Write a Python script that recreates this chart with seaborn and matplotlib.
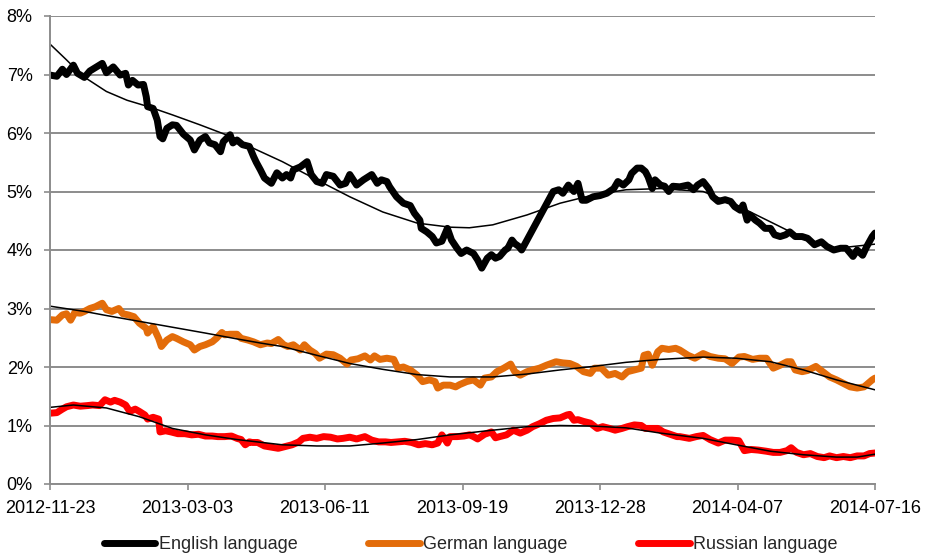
import pandas as pd
import seaborn as sns
import matplotlib.pyplot as plt
import matplotlib.dates as mdates
from matplotlib import font_manager

start = pd.Timestamp('2012-11-23')

# English language share (% of pages), days since 2012-11-23
en_day = [0, 5, 9, 12, 17, 20, 25, 29, 38, 41,
          46, 51, 55, 57, 60, 64, 68, 70, 71, 75,
          78, 80, 82, 85, 89, 92, 97, 102, 105, 109,
          113, 116, 120, 124, 126, 131, 133, 136, 140, 145,
          148, 150, 153, 156, 161, 165, 169, 172, 175, 177,
          182, 187, 190, 194, 198, 201, 206, 211, 215, 218,
          223, 228, 234, 238, 241, 245, 247, 252, 257, 262,
          265, 269, 270, 274, 278, 281, 285, 289, 292, 296,
          299, 303, 308, 311, 314, 318, 321, 324, 327, 331,
          333, 336, 338, 341, 343, 366, 370, 373, 377, 381,
          384, 387, 390, 395, 400, 405, 410, 413, 417, 421,
          423, 427, 430, 433, 435, 438, 440, 444, 447, 450,
          453, 458, 464, 468, 471, 475, 479, 482, 486, 491,
          495, 498, 502, 504, 507, 509, 513, 516, 520, 524,
          527, 531, 535, 538, 542, 547, 551, 556, 561, 565,
          570, 575, 579, 584, 587, 591, 594, 598, 600]
en_val = [6.99, 6.97, 7.09, 7.00, 7.16, 7.02, 6.95, 7.06, 7.19, 7.03,
          7.13, 6.99, 7.02, 6.82, 6.90, 6.82, 6.83, 6.62, 6.45, 6.42,
          6.22, 5.94, 5.90, 6.08, 6.14, 6.13, 5.98, 5.88, 5.71, 5.88,
          5.94, 5.83, 5.80, 5.68, 5.85, 5.97, 5.83, 5.88, 5.80, 5.77,
          5.60, 5.50, 5.37, 5.23, 5.14, 5.32, 5.23, 5.29, 5.23, 5.37,
          5.42, 5.51, 5.29, 5.17, 5.14, 5.29, 5.26, 5.11, 5.14, 5.29,
          5.11, 5.20, 5.29, 5.14, 5.20, 5.17, 5.08, 4.91, 4.80, 4.76,
          4.63, 4.51, 4.37, 4.31, 4.23, 4.12, 4.15, 4.37, 4.17, 4.03,
          3.94, 4.00, 3.94, 3.83, 3.69, 3.86, 3.92, 3.86, 3.89, 4.00,
          4.03, 4.17, 4.11, 4.06, 4.00, 5.00, 5.03, 4.97, 5.11, 5.00,
          5.14, 4.85, 4.85, 4.91, 4.93, 4.97, 5.05, 5.17, 5.11, 5.20,
          5.31, 5.40, 5.40, 5.34, 5.25, 5.05, 5.20, 5.11, 5.09, 5.00,
          5.09, 5.08, 5.11, 5.03, 5.11, 5.17, 5.05, 4.91, 4.83, 4.86,
          4.83, 4.74, 4.68, 4.77, 4.51, 4.60, 4.51, 4.46, 4.37, 4.37,
          4.26, 4.23, 4.26, 4.31, 4.23, 4.23, 4.20, 4.09, 4.14, 4.06,
          4.00, 4.03, 4.03, 3.89, 4.00, 3.91, 4.06, 4.23, 4.29]

de_day = [0, 5, 9, 12, 15, 18, 22, 25, 29, 33,
          38, 41, 45, 50, 53, 57, 61, 65, 70, 71,
          75, 79, 81, 85, 89, 92, 97, 102, 105, 109,
          113, 118, 121, 125, 127, 131, 136, 139, 144, 148,
          153, 158, 161, 166, 170, 173, 177, 182, 185, 189,
          193, 196, 201, 206, 211, 216, 219, 224, 229, 233,
          236, 240, 245, 250, 253, 257, 262, 267, 271, 276,
          280, 282, 286, 291, 295, 298, 303, 308, 313, 316,
          321, 325, 330, 335, 338, 342, 347, 351, 356, 361,
          368, 373, 378, 383, 388, 393, 396, 401, 406, 411,
          416, 420, 425, 430, 432, 435, 438, 442, 445, 450,
          455, 458, 464, 469, 475, 480, 486, 491, 496, 501,
          505, 511, 516, 521, 526, 531, 536, 539, 542, 547,
          551, 557, 562, 567, 572, 577, 582, 587, 592, 595,
          598, 600]
de_val = [2.81, 2.80, 2.89, 2.91, 2.80, 2.93, 2.92, 2.95, 3.00, 3.03,
          3.09, 2.98, 2.95, 3.00, 2.91, 2.89, 2.86, 2.75, 2.66, 2.58,
          2.69, 2.49, 2.35, 2.46, 2.52, 2.49, 2.43, 2.38, 2.29, 2.35,
          2.38, 2.43, 2.49, 2.59, 2.55, 2.56, 2.56, 2.49, 2.46, 2.43,
          2.38, 2.41, 2.40, 2.47, 2.38, 2.35, 2.38, 2.29, 2.38, 2.29,
          2.23, 2.15, 2.22, 2.21, 2.15, 2.05, 2.12, 2.14, 2.19, 2.12,
          2.19, 2.13, 2.15, 2.13, 1.98, 2.00, 1.95, 1.86, 1.75, 1.78,
          1.75, 1.64, 1.69, 1.69, 1.66, 1.70, 1.75, 1.78, 1.69, 1.81,
          1.83, 1.92, 1.98, 2.05, 1.92, 1.86, 1.92, 1.95, 1.98, 2.03,
          2.09, 2.07, 2.06, 2.01, 1.92, 1.89, 1.98, 1.98, 1.86, 1.89,
          1.83, 1.92, 1.95, 1.98, 2.20, 2.22, 2.03, 2.26, 2.32, 2.30,
          2.32, 2.29, 2.20, 2.15, 2.23, 2.18, 2.15, 2.14, 2.06, 2.17,
          2.18, 2.13, 2.15, 2.15, 1.98, 2.03, 2.09, 2.09, 1.95, 1.92,
          1.94, 2.01, 1.92, 1.83, 1.78, 1.72, 1.66, 1.64, 1.66, 1.72,
          1.78, 1.81]

ru_day = [0, 5, 9, 12, 17, 22, 27, 31, 36, 40,
          44, 47, 51, 55, 58, 62, 65, 69, 71, 75,
          79, 80, 84, 88, 93, 98, 103, 108, 113, 118,
          122, 127, 132, 136, 139, 142, 145, 147, 151, 156,
          161, 166, 171, 176, 181, 184, 189, 194, 199, 204,
          209, 213, 218, 223, 229, 234, 239, 244, 248, 253,
          258, 263, 268, 273, 278, 282, 285, 289, 291, 296,
          301, 305, 308, 311, 316, 321, 324, 327, 332, 337,
          342, 347, 351, 356, 361, 366, 371, 376, 378, 381,
          384, 388, 393, 398, 402, 407, 411, 416, 420, 425,
          430, 433, 438, 442, 446, 451, 456, 458, 465, 470,
          475, 480, 486, 491, 496, 501, 505, 510, 515, 521,
          526, 531, 536, 539, 543, 548, 553, 558, 563, 567,
          572, 577, 582, 587, 592, 596, 600]
ru_val = [1.21, 1.22, 1.28, 1.32, 1.35, 1.33, 1.34, 1.35, 1.34, 1.44,
          1.40, 1.43, 1.40, 1.35, 1.24, 1.28, 1.24, 1.18, 1.11, 1.14,
          1.11, 0.89, 0.91, 0.89, 0.86, 0.86, 0.84, 0.85, 0.82, 0.82,
          0.81, 0.81, 0.82, 0.78, 0.76, 0.67, 0.72, 0.71, 0.71, 0.65,
          0.63, 0.61, 0.64, 0.67, 0.72, 0.78, 0.80, 0.78, 0.81, 0.80,
          0.77, 0.78, 0.80, 0.77, 0.81, 0.75, 0.72, 0.72, 0.71, 0.72,
          0.73, 0.71, 0.67, 0.69, 0.67, 0.70, 0.84, 0.70, 0.81, 0.81,
          0.82, 0.84, 0.81, 0.77, 0.85, 0.89, 0.79, 0.81, 0.84, 0.92,
          0.87, 0.92, 0.98, 1.03, 1.09, 1.12, 1.13, 1.18, 1.19, 1.09,
          1.10, 1.07, 1.04, 0.95, 0.98, 0.95, 0.92, 0.95, 0.98, 1.01,
          1.00, 0.95, 0.95, 0.95, 0.89, 0.85, 0.81, 0.81, 0.78, 0.81,
          0.83, 0.76, 0.70, 0.75, 0.75, 0.74, 0.57, 0.59, 0.58, 0.56,
          0.54, 0.54, 0.57, 0.62, 0.54, 0.50, 0.52, 0.47, 0.45, 0.48,
          0.45, 0.47, 0.45, 0.48, 0.48, 0.52, 0.53]

# polynomial trend lines
en_trend_day = [0, 12, 24, 41, 56, 73, 89, 109, 128, 145, 169, 194, 218, 242, 267,
                291, 305, 322, 347, 371, 395, 419, 444, 475, 499, 524, 548, 572, 600]
en_trend_val = [7.52, 7.25, 6.97, 6.71, 6.56, 6.44, 6.31, 6.14, 5.97, 5.77, 5.51, 5.20, 4.91, 4.65, 4.46,
                4.39, 4.38, 4.43, 4.60, 4.80, 4.94, 5.03, 5.05, 5.00, 4.77, 4.48, 4.20, 4.03, 4.10]
de_trend_day = [0, 25, 41, 65, 89, 113, 136, 153, 169, 194, 218, 242, 267, 291, 322, 347,
                371, 395, 419, 444, 475, 499, 524, 548, 572, 600]
de_trend_val = [3.04, 2.95, 2.88, 2.78, 2.68, 2.58, 2.48, 2.41, 2.35, 2.20, 2.06, 1.96, 1.87, 1.83, 1.83, 1.88,
                1.95, 2.01, 2.08, 2.13, 2.17, 2.15, 2.09, 1.95, 1.78, 1.61]
ru_trend_day = [0, 17, 41, 65, 89, 113, 136, 169, 194, 218, 242, 267, 291, 322, 347, 371,
                395, 419, 444, 475, 499, 524, 548, 572, 587, 600]
ru_trend_val = [1.31, 1.35, 1.30, 1.15, 0.95, 0.84, 0.76, 0.67, 0.65, 0.65, 0.70, 0.76, 0.84, 0.92, 0.98, 1.00,
                0.99, 0.96, 0.87, 0.78, 0.67, 0.56, 0.50, 0.46, 0.46, 0.51]

languages = ['English language', 'German language', 'Russian language']
colors = {'English language': '#000000', 'German language': '#E36C0A', 'Russian language': '#FF0000'}
tick_days = [0, 100, 200, 300, 400, 500, 600]


def to_frame(days, vals, name):
    return pd.DataFrame({'date': start + pd.to_timedelta(days, unit='D'),
                         'share': vals, 'language': name})


series = pd.concat([to_frame(en_day, en_val, languages[0]),
                    to_frame(de_day, de_val, languages[1]),
                    to_frame(ru_day, ru_val, languages[2])], ignore_index=True)
trends = [to_frame(en_trend_day, en_trend_val, 'trend'),
          to_frame(de_trend_day, de_trend_val, 'trend'),
          to_frame(ru_trend_day, ru_trend_val, 'trend')]

sns.set_style('white')
installed = {f.name for f in font_manager.fontManager.ttflist}
if 'Liberation Sans Narrow' in installed:
    plt.rcParams['font.family'] = ['Liberation Sans Narrow', 'DejaVu Sans']
    fsize = 15
else:
    plt.rcParams['font.family'] = ['Liberation Sans', 'DejaVu Sans']
    fsize = 13

grey = '#8c8c8c'
fig, ax = plt.subplots(figsize=(9.25, 5.57), dpi=100)
fig.subplots_adjust(left=50 / 925, right=875 / 925, top=1 - 16 / 557, bottom=1 - 484 / 557)

sns.lineplot(data=series, x='date', y='share', hue='language', hue_order=languages,
             palette=colors, linewidth=5, errorbar=None, ax=ax,
             solid_capstyle='round', solid_joinstyle='round')
for tr in trends:
    sns.lineplot(data=tr, x='date', y='share', color='black', linewidth=1.1,
                 errorbar=None, legend=False, ax=ax)

# axes styling
ax.set_ylim(0, 8)
ax.set_yticks(range(0, 9))
ax.set_yticklabels([f'{v}%' for v in range(0, 9)], fontsize=fsize)
ax.set_xlim(start, start + pd.Timedelta(days=600))
ax.set_xticks([start + pd.Timedelta(days=d) for d in tick_days])
ax.xaxis.set_major_formatter(mdates.DateFormatter('%Y-%m-%d'))
for lab in ax.get_xticklabels():
    lab.set_fontsize(fsize)
ax.set_xlabel('')
ax.set_ylabel('')

ax.yaxis.grid(True, color=grey, linewidth=1.4)
ax.xaxis.grid(False)
ax.set_axisbelow(True)
for side in ['top', 'right']:
    ax.spines[side].set_visible(False)
for side in ['left', 'bottom']:
    ax.spines[side].set_color(grey)
    ax.spines[side].set_linewidth(1.4)
ax.tick_params(axis='both', colors=grey, labelcolor='black', width=1.2, length=4.5,
               direction='out', bottom=True, left=True)
ax.tick_params(axis='x', pad=7)
ax.tick_params(axis='y', pad=8)

handles, labels = ax.get_legend_handles_labels()
ax.get_legend().remove()
fig.legend(handles, labels, loc='center', bbox_to_anchor=(0.509, 0.022), ncol=3,
           frameon=False, fontsize=fsize, handlelength=2.85, handletextpad=0.2,
           columnspacing=3.9)

fig.savefig('out.png', dpi=100)
